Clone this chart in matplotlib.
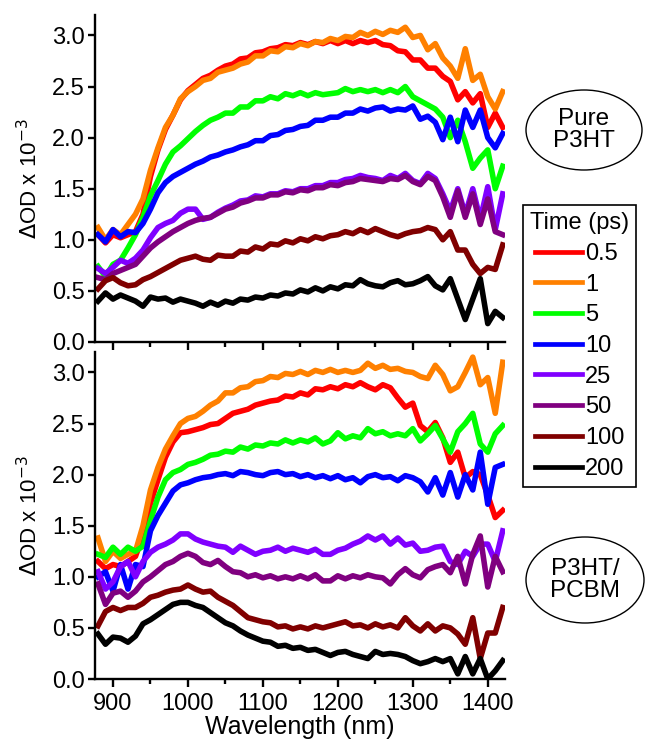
import matplotlib
matplotlib.use("Agg")
import matplotlib.pyplot as plt
from matplotlib.patches import Ellipse
from matplotlib.ticker import MultipleLocator, FormatStrFormatter

plt.rcParams['font.family'] = ['Liberation Sans', 'DejaVu Sans']

wavelength = [880, 890, 900, 910, 920, 930, 940, 950, 960, 970,
              980, 990, 1000, 1010, 1020, 1030, 1040, 1050, 1060, 1070,
              1080, 1090, 1100, 1110, 1120, 1130, 1140, 1150, 1160, 1170,
              1180, 1190, 1200, 1210, 1220, 1230, 1240, 1250, 1260, 1270,
              1280, 1290, 1300, 1310, 1320, 1330, 1340, 1350, 1360, 1370,
              1380, 1390, 1400, 1410, 1420]

time_labels = ["0.5", "1", "5", "10", "25", "50", "100", "200"]
colors = ["#FF0000", "#FF8000", "#00FF00", "#0000FF", "#8000FF", "#800080", "#800000", "#000000"]

# ---- Pure P3HT (top panel) ----
pure_05 = [1.05, 0.97, 1.05, 1.02, 1.05, 1.08, 1.25, 1.62, 1.88, 2.08,
           2.22, 2.37, 2.46, 2.52, 2.58, 2.61, 2.66, 2.70, 2.72, 2.77,
           2.78, 2.83, 2.84, 2.87, 2.88, 2.91, 2.90, 2.93, 2.91, 2.94,
           2.92, 2.95, 2.92, 2.95, 2.92, 2.95, 2.93, 2.95, 2.91, 2.90,
           2.85, 2.84, 2.76, 2.76, 2.68, 2.68, 2.60, 2.55, 2.37, 2.45,
           2.34, 2.43, 2.10, 2.24, 2.10]
pure_1 = [1.12, 1.00, 1.10, 1.05, 1.15, 1.25, 1.40, 1.68, 1.90, 2.10,
          2.22, 2.38, 2.45, 2.50, 2.56, 2.58, 2.64, 2.66, 2.68, 2.72,
          2.74, 2.80, 2.80, 2.85, 2.84, 2.89, 2.88, 2.92, 2.90, 2.94,
          2.93, 2.97, 2.95, 2.99, 2.98, 3.03, 3.00, 3.04, 3.01, 3.05,
          3.03, 3.08, 2.98, 3.00, 2.86, 2.92, 2.78, 2.70, 2.58, 2.87,
          2.56, 2.62, 2.40, 2.28, 2.45]
pure_5 = [0.74, 0.64, 0.76, 0.80, 0.92, 1.05, 1.22, 1.43, 1.58, 1.74,
          1.86, 1.92, 1.99, 2.06, 2.12, 2.17, 2.20, 2.24, 2.24, 2.30,
          2.30, 2.36, 2.36, 2.40, 2.38, 2.43, 2.41, 2.44, 2.41, 2.44,
          2.42, 2.43, 2.44, 2.48, 2.45, 2.47, 2.45, 2.47, 2.44, 2.47,
          2.44, 2.50, 2.40, 2.36, 2.32, 2.28, 2.20, 2.00, 2.17, 1.96,
          1.70, 1.80, 1.88, 1.50, 1.72]
pure_10 = [1.05, 0.98, 1.10, 1.03, 1.08, 1.07, 1.16, 1.30, 1.46, 1.56,
           1.62, 1.66, 1.70, 1.74, 1.77, 1.81, 1.83, 1.86, 1.88, 1.91,
           1.93, 1.97, 1.97, 2.02, 2.03, 2.07, 2.08, 2.11, 2.12, 2.17,
           2.17, 2.20, 2.20, 2.24, 2.24, 2.28, 2.26, 2.29, 2.30, 2.26,
           2.28, 2.27, 2.31, 2.18, 2.21, 2.15, 1.98, 2.20, 1.96, 2.27,
           2.10, 2.27, 2.00, 1.90, 2.04]
pure_25 = [0.72, 0.67, 0.73, 0.80, 0.77, 0.82, 0.90, 1.02, 1.12, 1.16,
           1.19, 1.26, 1.30, 1.30, 1.20, 1.22, 1.27, 1.31, 1.34, 1.38,
           1.39, 1.43, 1.42, 1.45, 1.45, 1.48, 1.47, 1.50, 1.50, 1.53,
           1.53, 1.56, 1.56, 1.59, 1.60, 1.63, 1.61, 1.60, 1.58, 1.63,
           1.60, 1.65, 1.58, 1.55, 1.65, 1.60, 1.45, 1.28, 1.50, 1.25,
           1.50, 1.20, 1.52, 1.10, 1.45]
pure_50 = [0.63, 0.61, 0.67, 0.70, 0.73, 0.76, 0.84, 0.92, 0.98, 1.03,
           1.08, 1.12, 1.16, 1.19, 1.21, 1.22, 1.26, 1.30, 1.32, 1.36,
           1.38, 1.41, 1.41, 1.44, 1.44, 1.47, 1.46, 1.49, 1.48, 1.51,
           1.51, 1.54, 1.53, 1.56, 1.57, 1.60, 1.59, 1.58, 1.57, 1.60,
           1.59, 1.63, 1.57, 1.54, 1.62, 1.58, 1.42, 1.22, 1.48, 1.22,
           1.45, 1.15, 1.40, 1.08, 1.05]
pure_100 = [0.52, 0.60, 0.63, 0.58, 0.55, 0.56, 0.61, 0.64, 0.68, 0.72,
            0.76, 0.80, 0.82, 0.84, 0.81, 0.80, 0.85, 0.84, 0.84, 0.89,
            0.88, 0.93, 0.91, 0.96, 0.95, 0.99, 0.97, 1.01, 0.99, 1.03,
            1.01, 1.04, 1.05, 1.08, 1.06, 1.10, 1.07, 1.11, 1.08, 1.05,
            1.03, 1.06, 1.08, 1.09, 1.12, 1.10, 1.00, 1.08, 0.90, 0.90,
            0.76, 0.67, 0.73, 0.71, 0.95]
pure_200 = [0.40, 0.48, 0.42, 0.46, 0.43, 0.40, 0.35, 0.44, 0.42, 0.43,
            0.39, 0.42, 0.40, 0.38, 0.35, 0.39, 0.36, 0.40, 0.38, 0.42,
            0.41, 0.44, 0.43, 0.46, 0.45, 0.48, 0.47, 0.51, 0.49, 0.53,
            0.50, 0.54, 0.52, 0.56, 0.55, 0.61, 0.57, 0.55, 0.54, 0.58,
            0.60, 0.56, 0.57, 0.60, 0.64, 0.55, 0.51, 0.62, 0.42, 0.22,
            0.42, 0.62, 0.18, 0.30, 0.24]

# ---- P3HT/PCBM (bottom panel) ----
blend_05 = [1.15, 1.08, 1.12, 1.10, 1.15, 1.20, 1.40, 1.72, 1.95, 2.17,
            2.32, 2.41, 2.42, 2.44, 2.46, 2.49, 2.50, 2.55, 2.60, 2.62,
            2.64, 2.68, 2.70, 2.72, 2.73, 2.77, 2.76, 2.80, 2.78, 2.84,
            2.83, 2.86, 2.84, 2.88, 2.86, 2.90, 2.86, 2.83, 2.88, 2.85,
            2.75, 2.66, 2.70, 2.48, 2.42, 2.51, 2.36, 2.12, 2.22, 1.97,
            2.03, 2.00, 1.80, 1.58, 1.65]
blend_1 = [1.38, 1.15, 1.25, 1.18, 1.22, 1.25, 1.50, 1.85, 2.07, 2.25,
           2.38, 2.50, 2.55, 2.57, 2.62, 2.68, 2.72, 2.80, 2.80, 2.85,
           2.86, 2.91, 2.92, 2.96, 2.95, 2.99, 2.98, 3.01, 2.98, 3.02,
           3.00, 3.03, 3.00, 3.02, 3.00, 3.02, 3.09, 3.04, 3.07, 3.03,
           3.04, 3.01, 3.00, 2.96, 2.94, 3.07, 2.98, 2.82, 2.86, 3.00,
           3.15, 2.88, 2.95, 2.60, 3.10]
blend_5 = [1.22, 1.19, 1.29, 1.22, 1.29, 1.25, 1.30, 1.55, 1.78, 1.95,
           2.02, 2.05, 2.10, 2.12, 2.15, 2.19, 2.20, 2.23, 2.22, 2.27,
           2.25, 2.29, 2.28, 2.31, 2.30, 2.34, 2.31, 2.34, 2.32, 2.36,
           2.30, 2.33, 2.41, 2.35, 2.38, 2.36, 2.45, 2.40, 2.42, 2.38,
           2.40, 2.38, 2.45, 2.33, 2.40, 2.48, 2.35, 2.22, 2.42, 2.50,
           2.60, 2.30, 2.22, 2.40, 2.48]
blend_10 = [1.00, 1.05, 0.86, 1.12, 0.88, 1.12, 1.10, 1.45, 1.60, 1.72,
            1.84, 1.90, 1.92, 1.95, 1.97, 1.98, 2.00, 2.01, 1.99, 2.03,
            2.02, 2.00, 1.99, 2.02, 2.03, 2.00, 2.01, 1.98, 2.00, 1.97,
            1.99, 1.96, 1.99, 1.95, 1.97, 1.92, 1.98, 2.00, 1.97, 1.98,
            1.94, 1.99, 1.97, 1.93, 1.83, 1.97, 1.80, 2.02, 1.78, 2.00,
            1.85, 2.22, 1.71, 2.07, 2.10]
blend_25 = [1.05, 0.88, 0.95, 1.10, 1.15, 1.00, 1.15, 1.24, 1.29, 1.32,
            1.36, 1.42, 1.42, 1.37, 1.34, 1.32, 1.30, 1.29, 1.24, 1.30,
            1.26, 1.22, 1.25, 1.26, 1.29, 1.25, 1.28, 1.26, 1.24, 1.27,
            1.22, 1.22, 1.26, 1.28, 1.32, 1.35, 1.40, 1.36, 1.40, 1.32,
            1.38, 1.31, 1.33, 1.25, 1.26, 1.29, 1.30, 1.15, 1.12, 1.25,
            1.20, 1.32, 1.32, 1.15, 1.45]
blend_50 = [0.93, 0.73, 0.84, 0.86, 0.80, 0.86, 0.95, 1.00, 1.06, 1.12,
            1.15, 1.20, 1.23, 1.20, 1.14, 1.12, 1.16, 1.10, 1.05, 1.04,
            1.00, 1.02, 0.99, 1.01, 0.98, 1.00, 0.98, 1.01, 0.98, 1.02,
            0.96, 0.96, 1.01, 0.98, 1.01, 0.99, 1.02, 1.00, 0.99, 0.93,
            1.02, 1.08, 1.02, 0.99, 1.07, 1.10, 1.12, 1.04, 1.20, 0.93,
            1.22, 1.40, 0.90, 1.20, 1.05]
blend_100 = [0.52, 0.66, 0.70, 0.67, 0.70, 0.70, 0.74, 0.80, 0.82, 0.85,
             0.87, 0.88, 0.92, 0.88, 0.85, 0.86, 0.80, 0.76, 0.72, 0.66,
             0.60, 0.58, 0.56, 0.55, 0.51, 0.52, 0.49, 0.51, 0.49, 0.52,
             0.50, 0.52, 0.54, 0.56, 0.52, 0.53, 0.50, 0.54, 0.51, 0.53,
             0.50, 0.60, 0.52, 0.47, 0.54, 0.47, 0.52, 0.50, 0.44, 0.34,
             0.60, 0.20, 0.45, 0.45, 0.70]
blend_200 = [0.44, 0.34, 0.41, 0.40, 0.36, 0.42, 0.54, 0.58, 0.63, 0.68,
             0.73, 0.75, 0.75, 0.72, 0.70, 0.65, 0.60, 0.55, 0.52, 0.47,
             0.43, 0.40, 0.37, 0.36, 0.32, 0.33, 0.30, 0.31, 0.28, 0.29,
             0.26, 0.23, 0.26, 0.27, 0.24, 0.22, 0.20, 0.27, 0.24, 0.25,
             0.24, 0.22, 0.18, 0.15, 0.17, 0.20, 0.17, 0.20, 0.05, 0.22,
             0.05, 0.20, 0.00, 0.08, 0.18]

pure = [pure_05, pure_1, pure_5, pure_10, pure_25, pure_50, pure_100, pure_200]
blend = [blend_05, blend_1, blend_5, blend_10, blend_25, blend_50, blend_100, blend_200]

W, H = 648, 744
fig = plt.figure(figsize=(W / 100, H / 100), dpi=100)

left = 95 / W
width = 410 / W
ax_top = fig.add_axes([left, (H - 342) / H, width, 327 / H])
ax_bot = fig.add_axes([left, (H - 679) / H, width, 327 / H])

TICK_FS = 17
for ax, series in ((ax_top, pure), (ax_bot, blend)):
    for vals, col, lab in zip(series, colors, time_labels):
        ax.plot(wavelength, vals, color=col, lw=4.0, label=lab, solid_joinstyle='round')
    ax.set_xlim(876, 1423)
    ax.set_ylim(0, 3.2)
    ax.spines['top'].set_visible(False)
    ax.spines['right'].set_visible(False)
    for s in ('left', 'bottom'):
        ax.spines[s].set_linewidth(1.7)
    ax.xaxis.set_major_locator(MultipleLocator(100))
    ax.xaxis.set_minor_locator(MultipleLocator(50))
    ax.yaxis.set_major_locator(MultipleLocator(0.5))
    ax.yaxis.set_major_formatter(FormatStrFormatter('%.1f'))
    ax.tick_params(axis='x', which='major', direction='out', length=6, width=1.7,
                   labelsize=TICK_FS, pad=4)
    ax.tick_params(axis='x', which='minor', direction='out', length=3.5, width=1.7)
    ax.tick_params(axis='y', which='major', direction='out', length=5, width=1.7,
                   labelsize=TICK_FS, pad=2.5)
    ax.set_ylabel(r'$\Delta$OD x 10$^{-3}$', fontsize=16, labelpad=7)

ax_top.tick_params(axis='x', labelbottom=False)
ax_bot.set_xlabel('Wavelength (nm)', fontsize=18, labelpad=0)

handles, labels = ax_bot.get_legend_handles_labels()
leg = fig.legend(handles, labels, title='Time (ps)', loc='upper left',
                 bbox_to_anchor=(523 / W, 1 - 205 / H), bbox_transform=fig.transFigure,
                 fontsize=17, title_fontsize=17, frameon=True, fancybox=False,
                 edgecolor='black', framealpha=1, borderaxespad=0,
                 handlelength=2.0, handletextpad=0.1, labelspacing=0.37,
                 borderpad=0.3)
leg.get_frame().set_linewidth(1.2)
for lh in leg.get_lines():
    lh.set_linewidth(3.4)

for (cx, cy, ew, eh, txt) in ((584, 130, 116, 80, 'Pure\nP3HT'),
                              (585, 580, 118, 86, 'P3HT/\nPCBM')):
    e = Ellipse((cx / W, 1 - cy / H), ew / W, eh / H, transform=fig.transFigure,
                facecolor='white', edgecolor='black', lw=1.0)
    fig.patches.append(e)
    fig.text(cx / W, 1 - cy / H, txt, ha='center', va='center', fontsize=17.5,
             linespacing=1.0)

fig.savefig('out.png', dpi=100)
